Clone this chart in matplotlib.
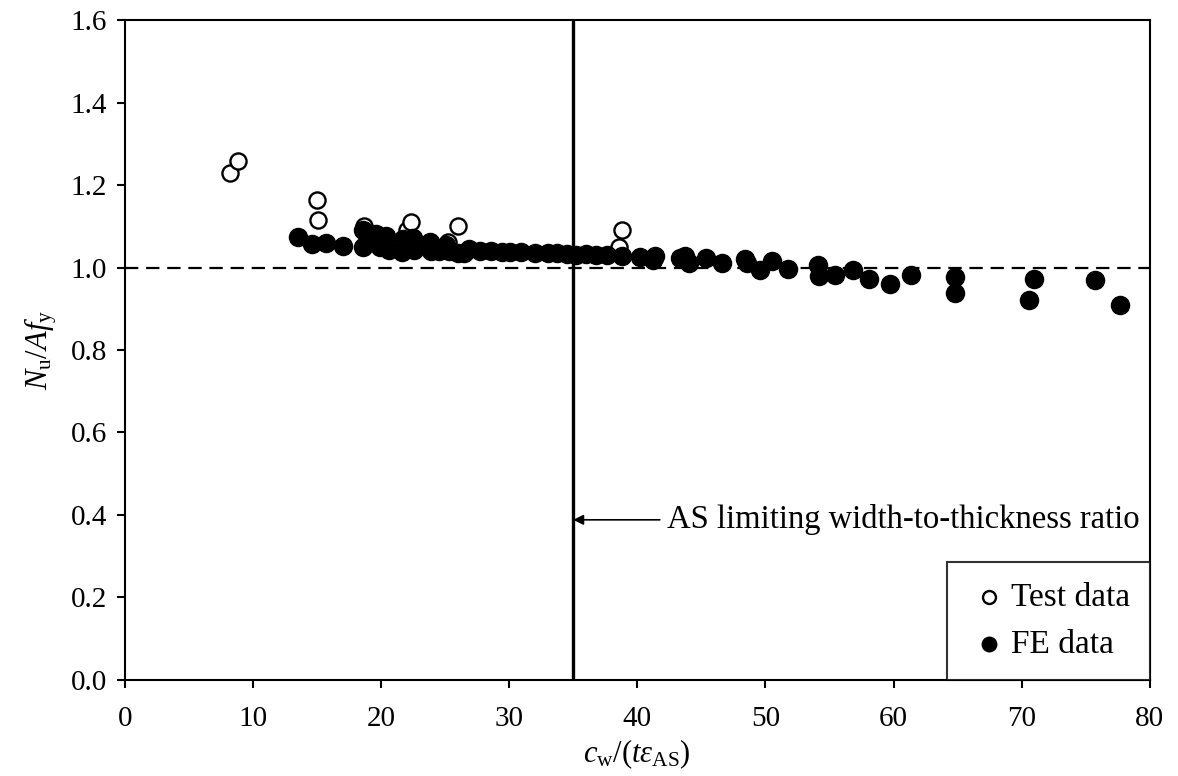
import numpy as np
import matplotlib
matplotlib.use("Agg")
import matplotlib.pyplot as plt

plt.rcParams["font.family"] = ["Liberation Serif", "DejaVu Serif"]
plt.rcParams["mathtext.fontset"] = "custom"
plt.rcParams["mathtext.rm"] = "Liberation Serif"
plt.rcParams["mathtext.it"] = "Liberation Serif:italic"

# test data (open circles)
test_x = [8.2, 8.8, 15.0, 15.1, 18.7, 22.0, 22.3, 25.2, 26.0, 38.6, 38.8]
test_y = [1.230, 1.258, 1.164, 1.116, 1.100, 1.090, 1.110, 1.062, 1.100, 1.050, 1.091]

# FE data (filled circles)
fe_x = [13.5, 14.6, 15.7, 17.0, 18.6, 18.6, 19.6, 19.9, 20.4, 20.6, 21.6, 21.7,
        22.5, 22.6, 23.0, 23.8, 23.9, 24.5, 25.1, 25.3, 26.0, 26.5, 26.9, 27.7,
        28.6, 29.4, 30.1, 30.9, 32.0, 33.0, 33.7, 34.5, 35.2, 36.0, 36.8, 37.6,
        38.8, 40.2, 41.2, 41.4, 43.3, 43.7, 44.0, 45.4, 46.6, 48.4, 48.6, 49.6,
        50.5, 51.8, 54.1, 54.2, 55.4, 56.8, 58.1, 59.7, 61.4, 64.8, 64.8, 70.6,
        71.0, 75.7, 77.7]
fe_y = [1.073, 1.058, 1.059, 1.052, 1.091, 1.050, 1.082, 1.050, 1.077, 1.042, 1.038, 1.068,
        1.072, 1.042, 1.055, 1.062, 1.040, 1.040, 1.055, 1.040, 1.035, 1.036, 1.045, 1.040,
        1.040, 1.037, 1.037, 1.037, 1.035, 1.035, 1.035, 1.033, 1.030, 1.032, 1.030, 1.030,
        1.028, 1.025, 1.018, 1.028, 1.022, 1.027, 1.012, 1.024, 1.010, 1.021, 1.012, 0.995,
        1.017, 0.997, 1.005, 0.979, 0.982, 0.993, 0.973, 0.961, 0.981, 0.977, 0.937, 0.921,
        0.973, 0.969, 0.909]

fig = plt.figure(figsize=(11.78, 7.76), dpi=100)
ax = fig.add_axes([0.106, 0.124, 0.870, 0.850])

ax.axhline(1.0, color="black", lw=1.6, ls=(0, (6, 3.5)), zorder=1)
ax.axvline(35, color="black", lw=2.4, zorder=2)

ax.scatter(test_x, test_y, s=135, facecolor="white", edgecolor="black",
           linewidth=1.7, zorder=3, label="Test data")
ax.scatter(fe_x, fe_y, s=170, color="black", zorder=4, label="FE data")

ax.annotate("AS limiting width-to-thickness ratio", xy=(35, 0.388), xytext=(42.3, 0.388),
            va="center", ha="left", fontsize=23.5,
            arrowprops=dict(arrowstyle="-|>", color="black", lw=1.2,
                            mutation_scale=15, shrinkA=3, shrinkB=0))

ax.set_xlim(0, 80)
ax.set_ylim(0, 1.6)
ax.set_xticks(np.arange(0, 81, 10))
ax.set_yticks(np.arange(0, 1.61, 0.2))
ax.set_yticklabels([f"{v:.1f}" for v in np.arange(0, 1.61, 0.2)])
ax.tick_params(direction="out", length=6, width=1.5, labelsize=21, pad=7)
ax.tick_params(axis="x", pad=13)
for sp in ax.spines.values():
    sp.set_linewidth(1.5)

ax.set_xlabel(r"$c_\mathrm{w}/(t\varepsilon_\mathrm{AS})$", fontsize=22, labelpad=4)
ax.set_ylabel(r"$N_\mathrm{u}/Af_\mathrm{y}$", fontsize=22, labelpad=8)

leg = ax.legend(loc="lower right", fontsize=24,
                frameon=True, fancybox=False, edgecolor="black", borderaxespad=0,
                handletextpad=0.0, markerscale=0.8, labelspacing=0.5,
                borderpad=0.6, handlelength=1.3)
leg.get_frame().set_linewidth(1.5)

fig.savefig("out.png", dpi=100)
